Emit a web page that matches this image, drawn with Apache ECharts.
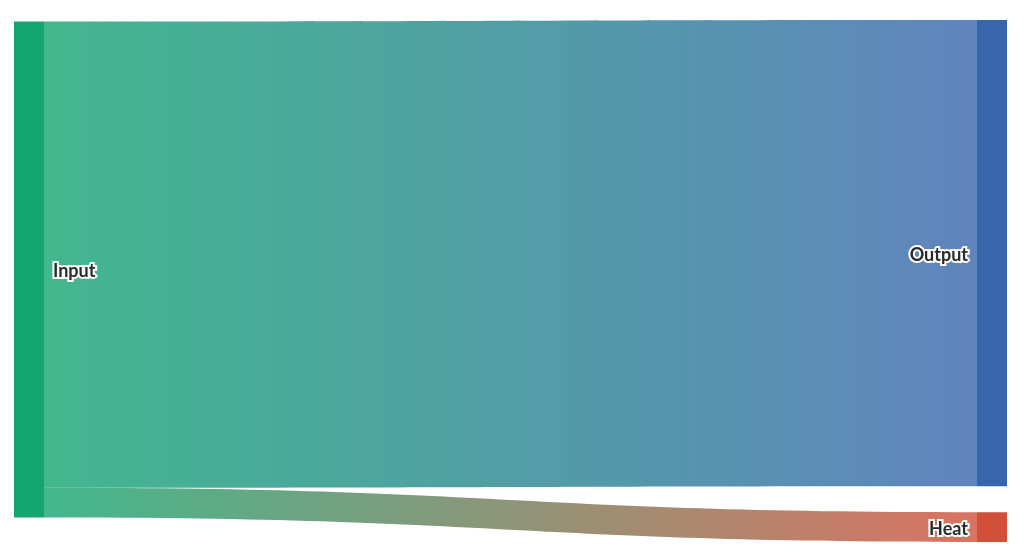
<!DOCTYPE html>
<html>
<head>
<meta charset="utf-8">
<script src="https://cdn.jsdelivr.net/npm/echarts@6/dist/echarts.min.js"></script>
<style>
html,body{margin:0;padding:0;background:#fff;}
#chart{width:1030px;height:560px;}
</style>
</head>
<body>
<div id="chart"></div>
<script>
const nodeNames = ['Input', 'Output', 'Heat'];
const nodeColors = ['#13a571', '#3866ad', '#d0503a'];
const linkSources = ['Input', 'Input'];
const linkTargets = ['Output', 'Heat'];
const linkValues = [94, 6];

const labelPositions = ['right', 'left', 'left'];

const chart = echarts.init(document.getElementById('chart'));
chart.setOption({
  animation: false,
  series: [{
    type: 'sankey',
    left: 14,
    right: 23,
    top: 20,
    bottom: 18,
    nodeWidth: 30,
    nodeGap: 26,
    layoutIterations: 32,
    data: nodeNames.map((n, i) => ({
      name: n,
      itemStyle: { color: nodeColors[i], borderWidth: 0 },
      label: { position: labelPositions[i] }
    })),
    links: linkSources.map((s, i) => ({ source: s, target: linkTargets[i], value: linkValues[i] })),
    lineStyle: { color: 'gradient', opacity: 0.8, curveness: 0.5 },
    label: {
      fontFamily: 'Lato, "Open Sans", sans-serif',
      fontWeight: 'bold',
      fontSize: 18,
      color: '#2a2a2a',
      textBorderColor: '#fff',
      textBorderWidth: 4,
      distance: 9,
      offset: [0, 2]
    },
    emphasis: { disabled: true }
  }]
});
</script>
</body>
</html>
